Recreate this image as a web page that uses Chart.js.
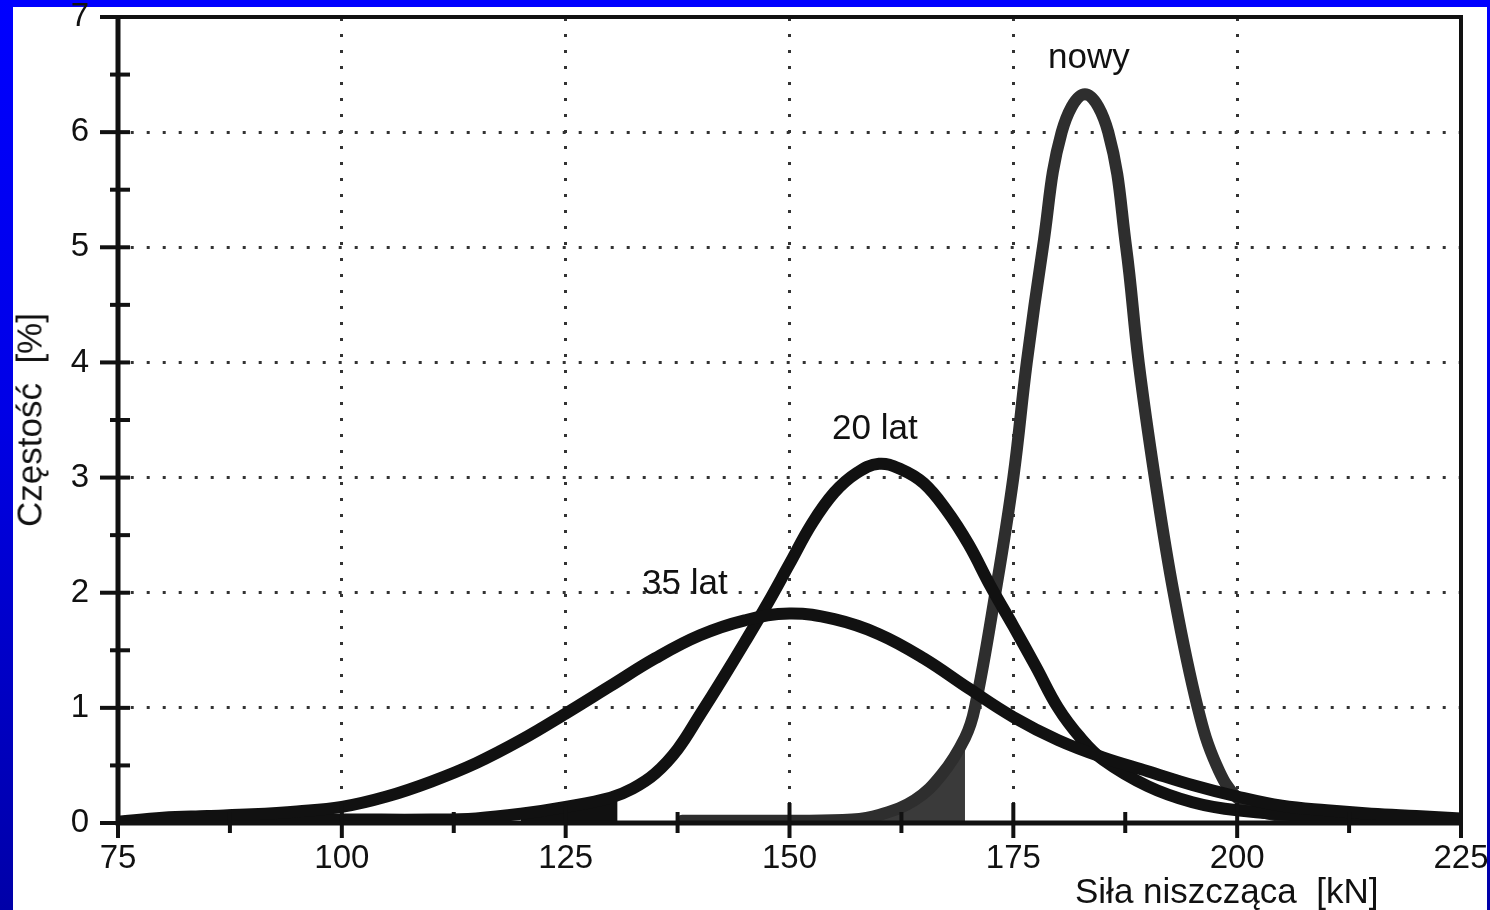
<!DOCTYPE html>
<html><head><meta charset="utf-8">
<script src="https://cdn.jsdelivr.net/npm/chart.js@4.4.1/dist/chart.umd.min.js"></script>
<style>
html,body{margin:0;padding:0;}
body{width:1490px;height:910px;overflow:hidden;position:relative;background:linear-gradient(to bottom,#0000ff 0%,#0000e6 45%,#0000a8 100%);font-family:"Liberation Sans",Arial,sans-serif;}
#white{position:absolute;left:13px;top:7px;width:1474px;height:903px;background:#fff;}
#c{position:absolute;left:0;top:0;}
.lbl{position:absolute;font-size:35px;line-height:35px;color:#111;white-space:pre;}
#ytitle{left:29px;top:420px;transform:translate(-50%,-50%) rotate(-90deg);}
</style></head><body>
<div id="white"></div>
<canvas id="c" width="1490" height="910"></canvas>
<div class="lbl" style="left:1048px;top:38px">nowy</div>
<div class="lbl" style="left:832px;top:409px">20 lat</div>
<div class="lbl" style="left:642px;top:564px">35 lat</div>
<div class="lbl" style="left:1075px;top:873px">Siła niszcząca  [kN]</div>
<div class="lbl" id="ytitle">Częstość  [%]</div>
<script>
// ---- data ----
const xTicksMinor = [87.5, 112.5, 137.5, 162.5, 187.5, 212.5];
const yTicksMinor = [0.5, 1.5, 2.5, 3.5, 4.5, 5.5, 6.5];

const x35 = [75, 80, 85, 90, 95, 100, 105, 110, 115, 120, 125, 130, 135, 140, 145, 150, 155, 160, 165, 170, 175, 180, 185, 190, 195, 200, 205, 210, 215, 220, 225];
const y35 = [0.01, 0.045, 0.06, 0.075, 0.10, 0.14, 0.23, 0.36, 0.52, 0.72, 0.95, 1.19, 1.43, 1.63, 1.76, 1.82, 1.77, 1.64, 1.43, 1.17, 0.92, 0.72, 0.57, 0.45, 0.33, 0.23, 0.15, 0.11, 0.08, 0.06, 0.04];

const x20 = [79, 90, 100, 110, 115, 120, 125, 130, 132.5, 135, 137.5, 140, 142.5, 145, 147.5, 150, 152.5, 155, 157.5, 160, 162.5, 165, 167.5, 170, 172.5, 175, 177.5, 180, 182.5, 185, 190, 195, 200, 210, 220, 225];
const y20 = [0.02, 0.025, 0.03, 0.03, 0.04, 0.08, 0.14, 0.22, 0.30, 0.43, 0.64, 0.94, 1.25, 1.57, 1.90, 2.25, 2.60, 2.87, 3.04, 3.12, 3.07, 2.95, 2.72, 2.42, 2.05, 1.71, 1.36, 1.00, 0.74, 0.55, 0.32, 0.18, 0.11, 0.05, 0.03, 0.02];

const xNowy = [138, 150, 157, 160, 164, 167, 169.6, 170.7, 173.0, 175.0, 176.5, 178.3, 180.4, 183.0, 185.6, 187.6, 189.0, 190.8, 192.9, 195.6, 197.7, 200, 203, 210];
const yNowy = [0.02, 0.02, 0.03, 0.07, 0.20, 0.42, 0.74, 1.0, 2.0, 3.0, 4.0, 5.0, 6.0, 6.33, 6.0, 5.0, 4.0, 3.0, 2.0, 1.0, 0.5, 0.22, 0.09, 0.02];

const x20Fill = [120, 124.3, 127.5, 130.8, 130.8];
const y20Fill = [0.08, 0.13, 0.17, 0.22, 0];

const xNowyFill = [157, 160, 162, 164, 166, 168, 169.6, 169.6];
const yNowyFill = [0.03, 0.10, 0.15, 0.24, 0.38, 0.55, 0.70, 0];

const pts = (xs, ys) => xs.map((v, i) => ({x: v, y: ys[i]}));

const framePlugin = {
  id: 'frame',
  afterDatasetsDraw(chart) {
    const {ctx, chartArea: a, scales: {x, y}} = chart;
    ctx.save();
    ctx.strokeStyle = '#111';
    ctx.lineCap = 'butt';
    ctx.lineWidth = 5;
    ctx.beginPath();
    ctx.moveTo(a.left, a.top); ctx.lineTo(a.left, a.bottom); ctx.lineTo(a.right, a.bottom);
    ctx.stroke();
    ctx.lineWidth = 4;
    ctx.beginPath();
    ctx.moveTo(a.left, a.top); ctx.lineTo(a.right, a.top); ctx.lineTo(a.right, a.bottom);
    ctx.stroke();
    ctx.lineWidth = 4;
    y.ticks.forEach(t => {
      const py = y.getPixelForValue(t.value);
      ctx.beginPath(); ctx.moveTo(a.left - 18, py); ctx.lineTo(a.left + 12, py); ctx.stroke();
    });
    yTicksMinor.forEach(v => {
      const py = y.getPixelForValue(v);
      ctx.beginPath(); ctx.moveTo(a.left - 8, py); ctx.lineTo(a.left + 12, py); ctx.stroke();
    });
    x.ticks.forEach(t => {
      const px = x.getPixelForValue(t.value);
      ctx.beginPath(); ctx.moveTo(px, a.bottom - 20); ctx.lineTo(px, a.bottom + 15); ctx.stroke();
    });
    xTicksMinor.forEach(v => {
      const px = x.getPixelForValue(v);
      ctx.beginPath(); ctx.moveTo(px, a.bottom - 11); ctx.lineTo(px, a.bottom + 10); ctx.stroke();
    });
    ctx.restore();
  }
};

const lineDs = (label, xs, ys, color, w) => ({
  label, data: pts(xs, ys), borderColor: color, borderWidth: w, pointRadius: 0,
  tension: 0.4, fill: false, borderCapStyle: 'round', borderJoinStyle: 'round'
});

new Chart(document.getElementById('c'), {
  type: 'line',
  data: {
    datasets: [
      lineDs('35 lat', x35, y35, '#111', 12),
      lineDs('20 lat', x20, y20, '#111', 12),
      lineDs('nowy', xNowy, yNowy, '#2e2e2e', 12),
      {label: '20 lat fill', data: pts(x20Fill, y20Fill), borderWidth: 0, backgroundColor: '#111', fill: 'origin', pointRadius: 0, tension: 0},
      {label: 'nowy fill', data: pts(xNowyFill, yNowyFill), borderWidth: 0, backgroundColor: '#3a3a3a', fill: 'origin', pointRadius: 0, tension: 0}
    ]
  },
  options: {
    responsive: false, animation: false, devicePixelRatio: 1,
    layout: {padding: {left: 0, top: 17, right: 29, bottom: 0}},
    plugins: {legend: {display: false}, tooltip: {enabled: false}},
    scales: {
      x: {
        type: 'linear', min: 75, max: 225,
        ticks: {stepSize: 25, padding: 16, color: '#111', font: {family: 'Liberation Sans', size: 33}, maxRotation: 0, autoSkip: false},
        grid: {color: c => (c.tick && c.tick.value > 75 && c.tick.value < 225) ? '#333' : 'rgba(0,0,0,0)', lineWidth: 3, drawTicks: false},
        border: {display: false, dash: [3, 13], dashOffset: 15},
        afterFit(s) { s.height = 87; s.paddingLeft = 0; s.paddingRight = 0; }
      },
      y: {
        type: 'linear', min: 0, max: 7,
        ticks: {stepSize: 1, padding: 29, color: '#111', font: {family: 'Liberation Sans', size: 33}},
        grid: {color: c => (c.tick && c.tick.value > 0 && c.tick.value < 7) ? '#333' : 'rgba(0,0,0,0)', lineWidth: 3, drawTicks: false},
        border: {display: false, dash: [3, 13], dashOffset: 3.3},
        afterFit(s) { s.width = 118; s.paddingTop = 0; s.paddingBottom = 0; }
      }
    }
  },
  plugins: [framePlugin]
});
</script>
</body></html>
